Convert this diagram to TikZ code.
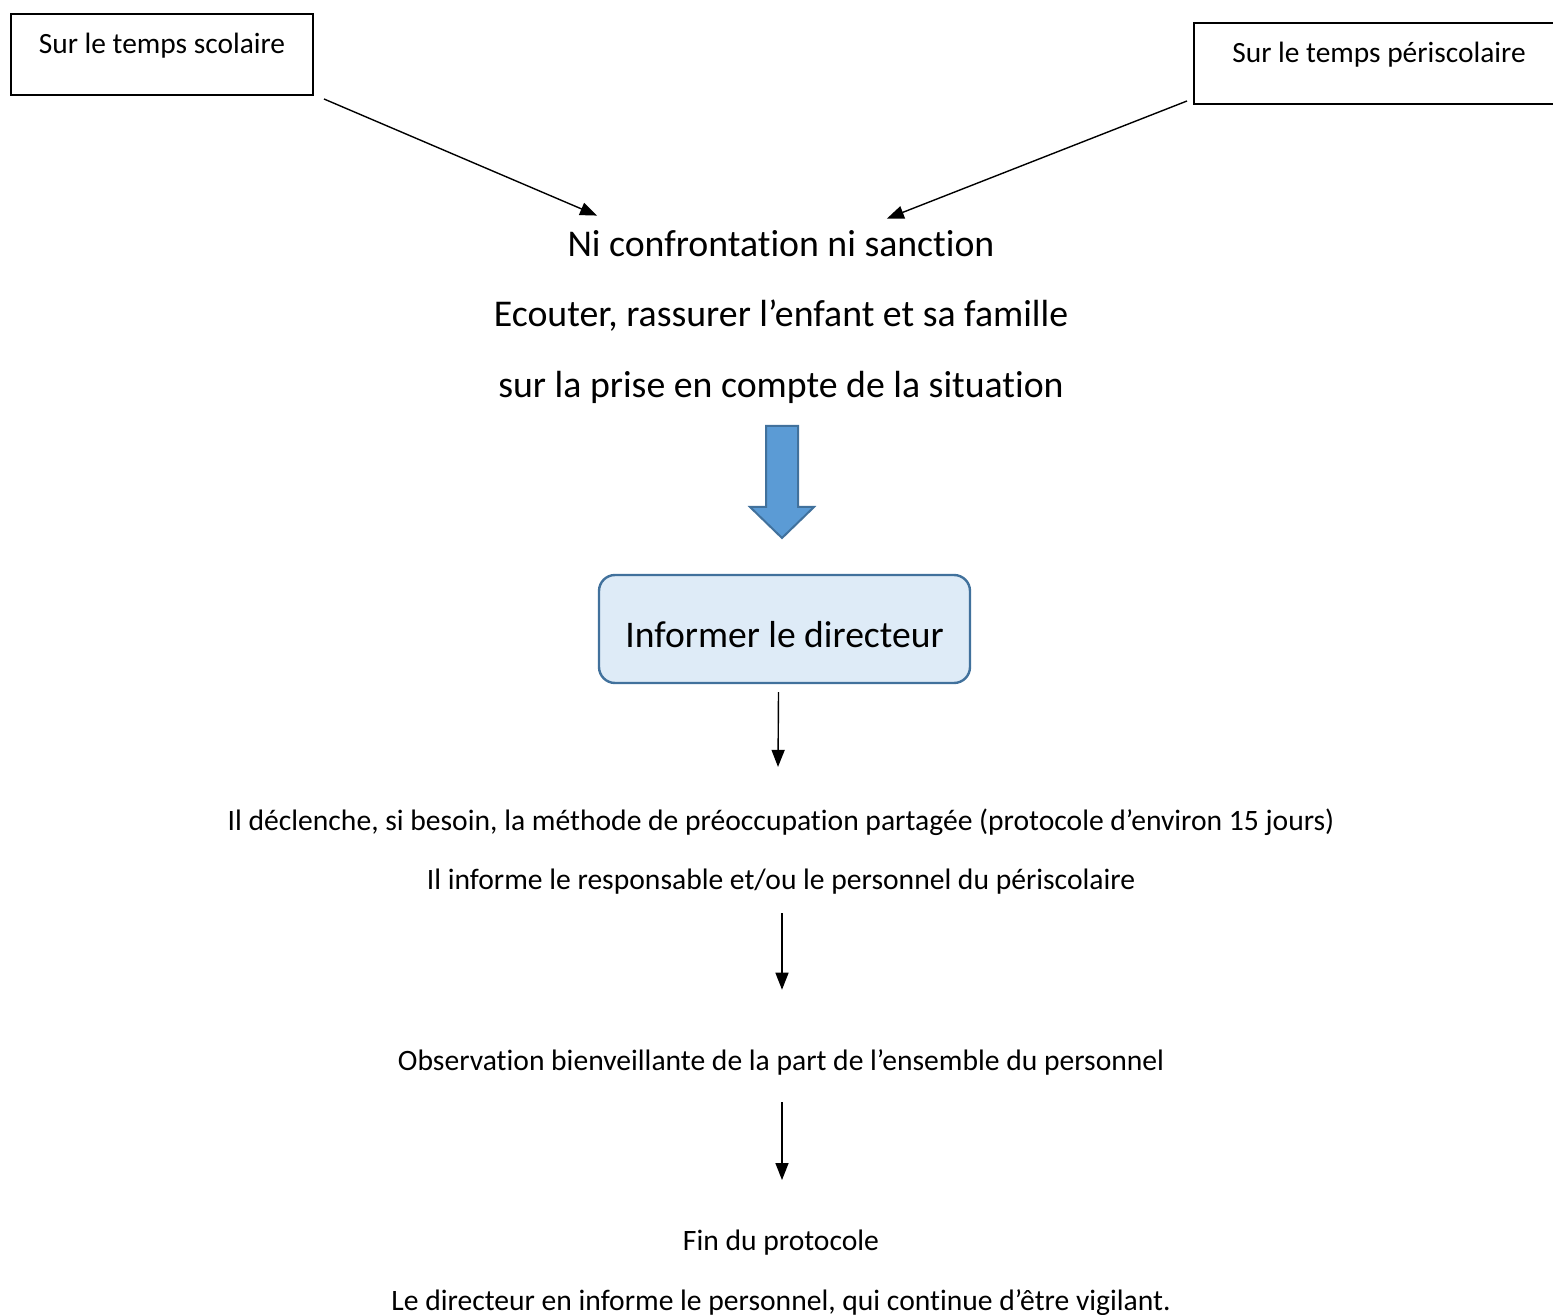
\documentclass[tikz,border=0pt]{standalone}
\usepackage{fontspec}
\setmainfont{Carlito}[Ligatures={NoCommon,NoContextual},RawFeature={-liga;-clig;-dlig}]
\usetikzlibrary{arrows.meta}
\definecolor{boxblue}{HTML}{DEEBF7}
\definecolor{edgeblue}{HTML}{41719C}
\definecolor{fatblue}{HTML}{5B9BD5}
\tikzset{frame/.style={draw,line width=1pt,inner sep=0pt,text height=20pt,text depth=20.5pt,anchor=north west,font=\fontsize{14.7}{18}\selectfont},
big label/.style={anchor=base,inner sep=0pt,font=\fontsize{18.9}{23}\selectfont},
small label/.style={anchor=base,inner sep=0pt,font=\fontsize{14.8}{18}\selectfont},
step box/.style={draw=edgeblue,fill=boxblue,line width=1.2pt,rounded corners=8pt,minimum width=185.5pt,minimum height=54pt,text height=18pt,text depth=0pt,font=\fontsize{18.8}{22}\selectfont},
link/.style={line width=0.7pt,-{Triangle[length=8.5pt,width=6.5pt]}}}

\begin{document}
\begin{tikzpicture}[x=0.5pt,y=-0.5pt]
			\useasboundingbox (0,0) rectangle (1553,1315);
			\node[frame,minimum width=151pt] (sco) at (10,13) {Sur le temps scolaire};
			\node[frame,minimum width=185pt] (peri) at (1193,22) {Sur le temps périscolaire};
			\node[big label] (ni) at (781,257) {Ni confrontation ni sanction};
			\node[big label] (ecou) at (781,327) {Ecouter, rassurer l’enfant et sa famille};
			\node[big label] (prise) at (781,398) {sur la prise en compte de la situation};
			\node[step box] (dir) at (784.5,629) {Informer le directeur};
			\node[small label] (dec) at (781,830) {Il déclenche, si besoin, la méthode de préoccupation partagée (protocole d’environ 15 jours)};
			\node[small label] (inf) at (781,889) {Il informe le responsable et/ou le personnel du périscolaire};
			\node[small label] (obs) at (781,1070) {Observation bienveillante de la part de l’ensemble du personnel};
			\node[small label] (fin) at (781,1250) {Fin du protocole};
			\node[small label] (vig) at (781,1310) {Le directeur en informe le personnel, qui continue d’être vigilant.};
			\draw[link] ([shift={(10,3)}]sco.south east) -- ([shift={(30,-15)}]ni.north west);
			\draw[link] ([shift={(-6,-4)}]peri.south west) -- ([shift={(-108,-12)}]ni.north east);
			% block arrow
			\draw[edgeblue,fill=fatblue,line width=1pt,line join=miter] (766,426) -- (798,426) -- (798,507) -- (814,507) -- (782,538) -- (750,507) -- (766,507) -- cycle;
			\draw[link] ([shift={(-6,8)}]dir.south) -- ([shift={(-3,-41)}]dec.north);
			\draw[link] ([shift={(1,19)}]inf.south) -- ([shift={(1,-59)}]obs.north);
			\draw[link] ([shift={(1,27)}]obs.south) -- ([shift={(1,-49)}]fin.north);
		\end{tikzpicture}
\end{document}
